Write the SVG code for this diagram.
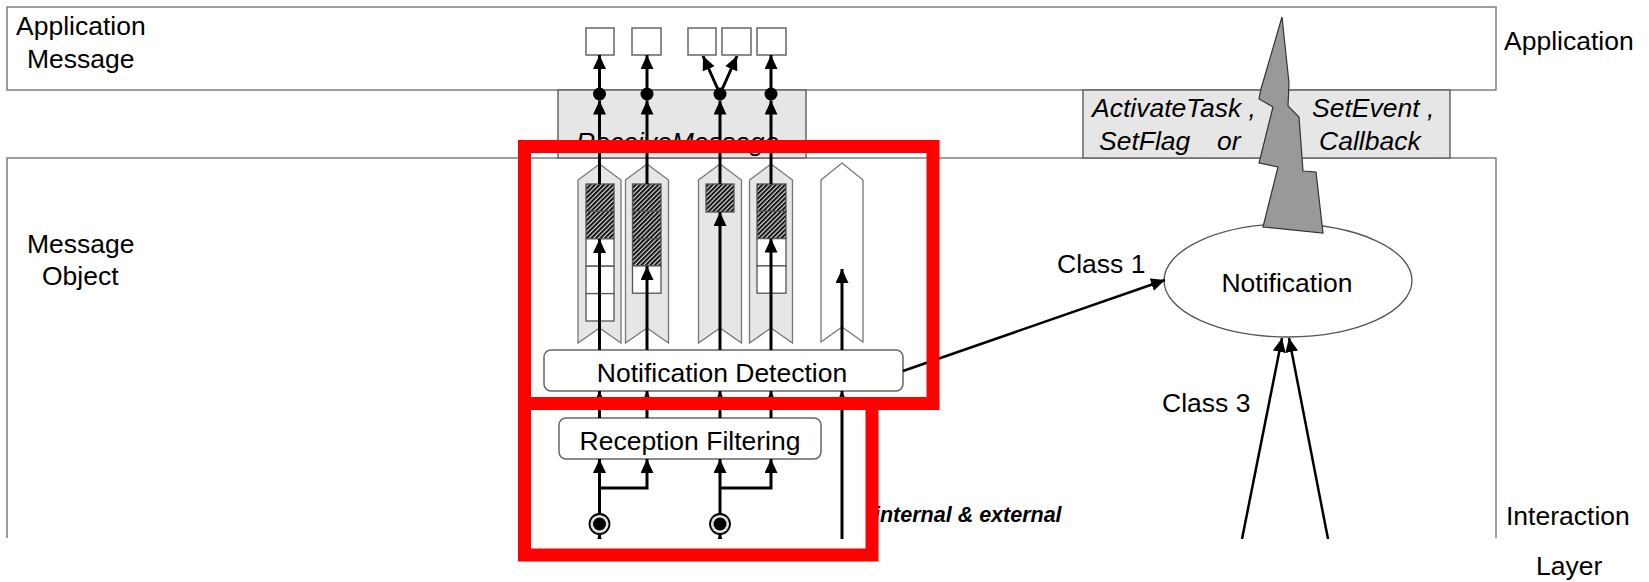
<svg xmlns="http://www.w3.org/2000/svg" width="1649" height="582" viewBox="0 0 1649 582">
  <style>
    text { font-family: "Liberation Sans", Arial, sans-serif; font-size: 26.5px; fill: #000; }
    .it { font-style: italic; }
    .frame { fill: #fff; stroke: #7f7f7f; stroke-width: 1.5; }
    .api { fill: #e6e6e6; stroke: #666; stroke-width: 1.5; }
    .slot { fill: #fff; stroke: #666; stroke-width: 1.5; }
    .chev { fill: #e6e6e6; stroke: #777; stroke-width: 1.3; }
    .chev-empty { fill: #fff; stroke: #777; stroke-width: 1.3; }
    .cell { fill: #fff; stroke: #555; stroke-width: 1.3; }
    .full { fill: url(#hatch); stroke: #555; stroke-width: 1.3; }
    .proc { fill: #fff; stroke: #666; stroke-width: 1.5; }
    .wire { fill: none; stroke: #000; stroke-width: 3; marker-end: url(#ah); }
    .wire-thin { fill: none; stroke: #000; stroke-width: 2.5; marker-end: url(#ah); }
    .mark { fill: none; stroke: #ff0000; stroke-width: 13; }
  </style>
  <defs>
    <marker id="ah" markerUnits="userSpaceOnUse" markerWidth="16" markerHeight="16" refX="14" refY="6.5" orient="auto">
      <path d="M0,0 L14,6.5 L0,13 z" fill="#000"/>
    </marker>
    <pattern id="hatch" patternUnits="userSpaceOnUse" width="3.2" height="3.2" patternTransform="rotate(45)">
      <rect width="3.2" height="3.2" fill="#d8d8d8"/>
      <line x1="1" y1="0" x2="1" y2="3.2" stroke="#111" stroke-width="2"/>
    </pattern>
    <clipPath id="cut">
      <rect x="0" y="0" width="1649" height="539"/>
    </clipPath>
  </defs>

  <rect width="1649" height="582" fill="#fff"/>

  <!-- layers -->
  <g id="application-layer">
    <rect class="frame" x="7" y="7" width="1489" height="83"/>
    <text x="16" y="35">Application</text>
    <text x="27" y="68">Message</text>
    <text x="1504" y="50">Application</text>
  </g>

  <g id="message-object-layer">
    <path class="frame" d="M7,538 V158 H1496 V538"/>
    <text x="27" y="253">Message</text>
    <text x="42" y="285">Object</text>
    <text x="1506" y="525">Interaction</text>
    <text x="1536" y="575">Layer</text>
  </g>

  <!-- API boxes between the layers -->
  <g id="receive-message">
    <rect class="api" x="558" y="90" width="248" height="68"/>
    <text class="it" x="576" y="151">ReceiveMessage</text>
  </g>

  <g id="notification-api">
    <rect class="api" x="1083" y="90" width="367" height="68"/>
    <text class="it" x="1092" y="117">ActivateTask ,</text>
    <text class="it" x="1099" y="150">SetFlag</text>
    <text class="it" x="1217" y="150">or</text>
    <text class="it" x="1312" y="117">SetEvent ,</text>
    <text class="it" x="1319" y="150">Callback</text>
  </g>

  <!-- application message slots -->
  <g id="app-messages">
    <rect class="slot" x="586" y="28" width="28" height="27"/>
    <rect class="slot" x="632" y="28" width="29" height="27"/>
    <rect class="slot" x="688" y="28" width="28" height="27"/>
    <rect class="slot" x="722" y="28" width="29" height="27"/>
    <rect class="slot" x="757" y="28" width="29" height="27"/>
  </g>

  <!-- message objects (queues) -->
  <g id="msg-object-1">
    <polygon class="chev" points="578,180 599.5,164 621,180 621,343 599.5,328 578,343"/>
    <rect class="full" x="586" y="184" width="28" height="27.4"/>
    <rect class="full" x="586" y="211.4" width="28" height="27.4"/>
    <rect class="cell" x="586" y="238.8" width="28" height="27.4"/>
    <rect class="cell" x="586" y="266.2" width="28" height="27.4"/>
    <rect class="cell" x="586" y="293.6" width="28" height="27.4"/>
  </g>
  <g id="msg-object-2">
    <polygon class="chev" points="625.5,180 647,164 668.5,180 668.5,343 647,328 625.5,343"/>
    <rect class="full" x="632.5" y="184" width="28.5" height="27.3"/>
    <rect class="full" x="632.5" y="211.3" width="28.5" height="27.3"/>
    <rect class="full" x="632.5" y="238.6" width="28.5" height="27.3"/>
    <rect class="cell" x="632.5" y="265.9" width="28.5" height="27.3"/>
  </g>
  <g id="msg-object-3">
    <polygon class="chev" points="698.5,180 720,164 741.5,180 741.5,343 720,328 698.5,343"/>
    <rect class="full" x="706" y="184" width="28" height="28"/>
  </g>
  <g id="msg-object-4">
    <polygon class="chev" points="749.5,180 771,164 792.5,180 792.5,343 771,328 749.5,343"/>
    <rect class="full" x="757" y="184" width="29" height="27.3"/>
    <rect class="full" x="757" y="211.3" width="29" height="27.3"/>
    <rect class="cell" x="757" y="238.6" width="29" height="27.3"/>
    <rect class="cell" x="757" y="265.9" width="29" height="27.3"/>
  </g>
  <g id="msg-object-5">
    <polygon class="chev-empty" points="821,180 842,163 863,180 863,342 842,327 821,342"/>
  </g>

  <!-- processing stages -->
  <g id="notification-detection">
    <rect class="proc" x="544" y="350" width="359" height="41" rx="7"/>
    <text x="722" y="381.5" text-anchor="middle">Notification Detection</text>
  </g>

  <g id="reception-filtering">
    <rect class="proc" x="559" y="418" width="262" height="41" rx="7"/>
    <text x="690" y="450" text-anchor="middle">Reception Filtering</text>
  </g>

  <!-- notification handling -->
  <g id="notification">
    <ellipse cx="1288" cy="280.5" rx="124" ry="56.5" fill="#fff" stroke="#555" stroke-width="1.3"/>
    <text x="1287" y="292" text-anchor="middle">Notification</text>
  </g>

  <g id="activation-bolt">
    <polygon points="1282,17 1289,83 1288,106 1299,117 1303,171 1316,172 1323,233 1263,227 1278,167 1259,163 1273,107 1259,99 1261,89" fill="#999" stroke="#333" stroke-width="1.2"/>
  </g>

  <!-- receive points -->
  <g id="receive-port-1">
    <circle cx="599.5" cy="524" r="10" fill="#e0e0e0" stroke="#000" stroke-width="1.8"/>
    <circle cx="599.5" cy="524" r="6.5" fill="#000"/>
  </g>
  <g id="receive-port-2">
    <circle cx="720" cy="524" r="10" fill="#e0e0e0" stroke="#000" stroke-width="1.8"/>
    <circle cx="720" cy="524" r="6.5" fill="#000"/>
  </g>

  <!-- connectors -->
  <g id="connectors" clip-path="url(#cut)">
    <!-- incoming into receive ports -->
    <path class="wire" d="M599.5,548 V534"/>
    <path class="wire" d="M720,548 V534"/>

    <!-- receive ports to filtering -->
    <path class="wire" d="M599.5,514 V459"/>
    <path class="wire" d="M599.5,488 H647 V459"/>
    <path class="wire" d="M720,514 V459"/>
    <path class="wire" d="M720,488 H771 V459"/>

    <!-- filtering to detection -->
    <path class="wire" d="M599.5,418 V391"/>
    <path class="wire" d="M647,418 V391"/>
    <path class="wire" d="M720,418 V391"/>
    <path class="wire" d="M771,418 V391"/>
    <path class="wire" d="M842,539 V391"/>

    <!-- detection into message objects -->
    <path class="wire" d="M599.5,350 V239"/>
    <path class="wire" d="M647,350 V266"/>
    <path class="wire" d="M720,350 V212"/>
    <path class="wire" d="M771,350 V238.6"/>
    <path class="wire" d="M842,350 V269"/>

    <!-- message objects to ReceiveMessage -->
    <path class="wire" d="M599.5,184 V100.5"/>
    <path class="wire" d="M647,184 V100.5"/>
    <path class="wire" d="M720,184 V100.5"/>
    <path class="wire" d="M771,184 V100.5"/>
    <circle cx="599.5" cy="94" r="6.5" fill="#000"/>
    <circle cx="647" cy="94" r="6.5" fill="#000"/>
    <circle cx="720" cy="94" r="6.5" fill="#000"/>
    <circle cx="771" cy="94" r="6.5" fill="#000"/>

    <!-- ReceiveMessage to application messages -->
    <path class="wire" d="M599.5,94 V55"/>
    <path class="wire" d="M647,94 V55"/>
    <path class="wire" d="M720,94 L703,56"/>
    <path class="wire" d="M720,94 L737,56"/>
    <path class="wire" d="M771,94 V55"/>

    <!-- notification classes -->
    <path class="wire-thin" d="M903,371 L1165,280"/>
    <path class="wire-thin" d="M1242,539 L1282,338"/>
    <path class="wire-thin" d="M1328,539 L1289,338"/>
  </g>

  <g id="labels">
    <text x="1057" y="273">Class 1</text>
    <text x="1162" y="412">Class 3</text>
    <text x="874" y="522" style="font-size:21.5px;font-weight:bold;font-style:italic">internal &amp; external</text>
  </g>

  <!-- highlight frames -->
  <g id="highlights">
    <rect class="mark" x="524.5" y="146.5" width="408.5" height="257"/>
    <rect class="mark" x="524.5" y="403.5" width="347.5" height="151.5"/>
  </g>
</svg>
